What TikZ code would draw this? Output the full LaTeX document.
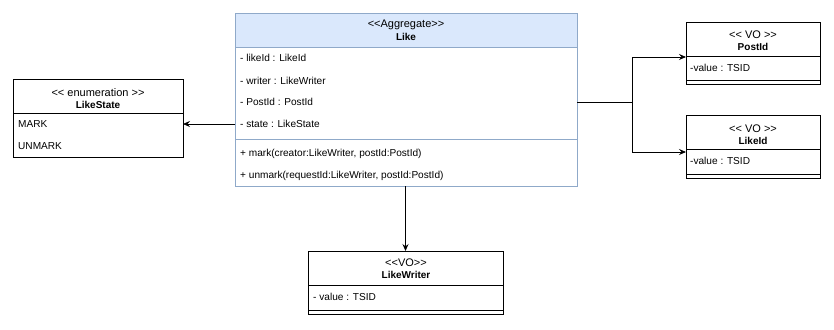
\documentclass[tikz,border=0pt]{standalone}
\usepackage{fontspec}
\setmainfont{Liberation Sans}[Ligatures=TeXOff]
\usetikzlibrary{arrows.meta}
\definecolor{hdrfill}{HTML}{DAE8FC}
\definecolor{hdrline}{HTML}{8FA9C9}
\tikzset{
  part/.style={draw=black, line width=0.8pt, anchor=north west, inner sep=0pt, outer sep=0pt},
  bluepart/.style={part, draw=hdrline},
  txt/.style={font=\fontsize{10.1pt}{12pt}\selectfont, inner sep=0pt, anchor=west},
  ctxt/.style={font=\fontsize{11pt}{13pt}\selectfont, inner sep=0pt},
  btxt/.style={font=\fontsize{10pt}{12pt}\selectfont\bfseries, inner sep=0pt},
  conn/.style={draw=black, line width=0.8pt},
  arr/.style={conn, -{Stealth[length=7pt,width=6pt,inset=2.5pt]}}
}
\begin{document}
\begin{tikzpicture}[x=1pt,y=-1pt]
\useasboundingbox (0,0) rectangle (834,329);
% Like
\node[bluepart, fill=hdrfill, minimum width=342pt, minimum height=34pt] (likeH) at (235,13) {};
\node[bluepart, minimum width=342pt, minimum height=92pt] (likeA) at (235,47) {};
\node[bluepart, minimum width=342pt, minimum height=47pt] (likeM) at (235,139) {};
\node[ctxt] (likeS) at (406,25) {<<Aggregate>>};
\node[btxt] (likeN) at (406,36.5) {Like};
\node[txt] (la1) at (240,58) {- likeId : LikeId};
\node[txt] (la2) at (240,80.5) {- writer : LikeWriter};
\node[txt] (la3) at (240,102) {- PostId : PostId};
\node[txt] (la4) at (240,124) {- state : LikeState};
\node[txt] (lm1) at (240,154) {+ mark(creator:LikeWriter, postId:PostId)};
\node[txt] (lm2) at (240,175.5) {+ unmark(requestId:LikeWriter, postId:PostId)};
% LikeState
\node[part, minimum width=170pt, minimum height=34pt] (stH) at (13,79) {};
\node[part, minimum width=170pt, minimum height=44pt] (stB) at (13,113) {};
\node[ctxt] (stS) at (98,93) {<< enumeration >>};
\node[btxt] (stN) at (98,105) {LikeState};
\node[txt] (st1) at (18,124) {MARK};
\node[txt] (st2) at (18,146) {UNMARK};
% PostId
\node[part, minimum width=134pt, minimum height=34pt] (pH) at (686,22) {};
\node[part, minimum width=134pt, minimum height=24pt] (pB) at (686,56) {};
\node[part, minimum width=134pt, minimum height=4pt] (pF) at (686,80) {};
\node[ctxt] (pS) at (753,35) {<< VO >>};
\node[btxt] (pN) at (753,47) {PostId};
\node[txt] (p1) at (690,68) {-value : TSID};
% LikeId
\node[part, minimum width=134pt, minimum height=34pt] (iH) at (686,115) {};
\node[part, minimum width=134pt, minimum height=25pt] (iB) at (686,149) {};
\node[part, minimum width=134pt, minimum height=4pt] (iF) at (686,174) {};
\node[ctxt] (iS) at (753,129) {<< VO >>};
\node[btxt] (iN) at (753,141) {LikeId};
\node[txt] (i1) at (690,161) {-value : TSID};
% LikeWriter
\node[part, minimum width=195pt, minimum height=34pt] (wH) at (308,251) {};
\node[part, minimum width=195pt, minimum height=25pt] (wB) at (308,285) {};
\node[part, minimum width=195pt, minimum height=4pt] (wF) at (308,310) {};
\node[ctxt] (wS) at (406,263) {<<VO>>};
\node[btxt] (wN) at (406,274.5) {LikeWriter};
\node[txt] (w1) at (313,297) {- value : TSID};
% connectors
\draw[arr] (likeA.west |- la4) -- (stB.east |- la4);
\coordinate (j) at (632,102);
\draw[conn] (likeA.east |- j) -- (j);
\draw[arr] (j) |- ([yshift=-1pt]pH.south west);
\draw[arr] (j) |- ([yshift=-3pt]iH.south west);
\draw[arr] (likeM.south -| wH.north) -- (wH.north);
\end{tikzpicture}
\end{document}
